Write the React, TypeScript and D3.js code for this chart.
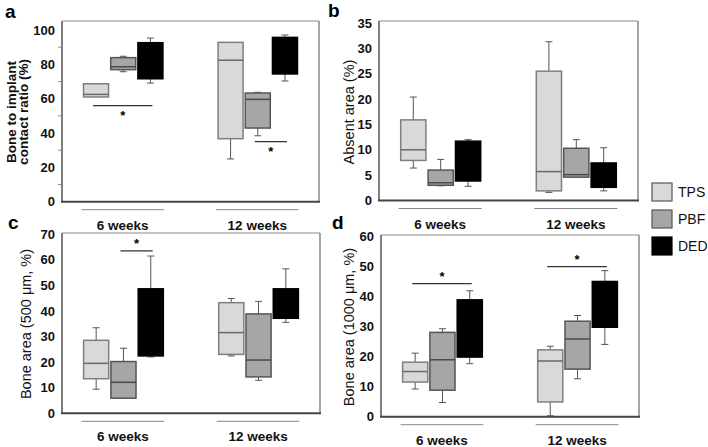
import * as d3 from "d3";

const groups = ["6 weeks", "12 weeks"];
const series = ["TPS", "PBF", "DED"];
const fills = ["#d9d9d9", "#a6a6a6", "#000000"];
const strokes = ["#7f7f7f", "#555555", "#000000"];
const medianColors = ["#6a6a6a", "#4a4a4a", "#000000"];

// [min, q1, median, q3, max] per series, per group
const bic6 = [[61, 61, 62.5, 68.7, 68.7], [75.7, 76.9, 78.6, 83.9, 84.7], [69.1, 71.6, 85, 92.6, 95.3]];
const bic12 = [[24.9, 36.7, 82.4, 92.8, 92.8], [38.4, 42.9, 59.6, 63.3, 63.7], [70.3, 74.4, 88, 95.7, 97.1]];
const absent6 = [[6.4, 7.9, 10.0, 15.9, 20.4], [2.9, 3.0, 3.5, 6.0, 8.1], [2.8, 3.85, 8, 11.7, 12.0]];
const absent12 = [[1.6, 1.9, 5.7, 25.5, 31.3], [4.6, 4.6, 5.1, 10.3, 12.0], [1.9, 2.6, 5, 7.4, 10.4]];
const ba500w6 = [[9.4, 13.5, 19.5, 28.5, 33.4], [5.9, 5.9, 12.1, 20.2, 25.4], [22.0, 22.4, 35, 48.6, 61.4]];
const ba500w12 = [[22.4, 23.0, 31.5, 43.2, 44.8], [12.9, 14.2, 20.8, 38.8, 43.7], [35.5, 37.1, 42, 48.6, 56.4]];
const ba1000w6 = [[9.2, 11.5, 15.0, 18.1, 21.1], [4.7, 8.8, 18.9, 28.0, 29.2], [17.6, 19.8, 30, 38.8, 41.8]];
const ba1000w12 = [[0.3, 4.9, 18.5, 22.2, 23.4], [12.6, 15.8, 25.8, 31.7, 33.6], [24.0, 29.7, 38, 44.9, 48.5]];

// significance bars: group, from series, to series, value, star below?
const sigA = [
  { group: "6 weeks", from: "TPS", to: "DED", v: 56, below: true },
  { group: "12 weeks", from: "PBF", to: "DED", v: 35, below: true },
];
const sigC = [{ group: "6 weeks", from: "PBF", to: "DED", v: 63.4, below: false }];
const sigD = [
  { group: "6 weeks", from: "TPS", to: "DED", v: 44.2, below: false },
  { group: "12 weeks", from: "TPS", to: "DED", v: 49.8, below: false },
];

const ticksA = [0, 20, 40, 60, 80, 100];
const minorA = [10, 30, 50, 70, 90];
const ticksB = [0, 5, 10, 15, 20, 25, 30, 35];
const ticksC = [0, 10, 20, 30, 40, 50, 60, 70];
const ticksD = [0, 10, 20, 30, 40, 50, 60];

const FONT = "'Liberation Sans', Arial, sans-serif";

const panels = [
  { label: "a", title: ["Bone to implant", "contact ratio (%)"], titleBold: true, data: [bic6, bic12], ticks: ticksA, minor: minorA, sig: sigA,
    x0: 62, x1: 319, top: 21, bottom: 201.7, maxPix: 30, titleX: 28, titleY: 112, labelX: 5, labelY: 18 },
  { label: "b", title: ["Absent area (%)"], titleBold: false, data: [absent6, absent12], ticks: ticksB, minor: [], sig: [],
    x0: 379, x1: 638, top: 21, bottom: 200.5, maxPix: 23, titleX: 354, titleY: 112, labelX: 328, labelY: 17 },
  { label: "c", title: ["Bone area (500 μm, %)"], titleBold: false, data: [ba500w6, ba500w12], ticks: ticksC, minor: [], sig: sigC,
    x0: 62, x1: 320, top: 233, bottom: 413.3, maxPix: 234, titleX: 31, titleY: 324, labelX: 8, labelY: 229 },
  { label: "d", title: ["Bone area (1000 μm, %)"], titleBold: false, data: [ba1000w6, ba1000w12], ticks: ticksD, minor: [], sig: sigD,
    x0: 381, x1: 639, top: 235, bottom: 416.7, maxPix: 236, titleX: 354, titleY: 327, labelX: 332, labelY: 229 },
];

function Panel({ p }: { p: (typeof panels)[number] }) {
  const maxT = p.ticks[p.ticks.length - 1];
  const y = d3.scaleLinear().domain([0, maxT]).range([p.bottom, p.maxPix]);
  const gx = d3.scaleBand().domain(groups).range([p.x0, p.x1]).paddingInner(0.41).paddingOuter(0.16);
  const sx = d3.scaleBand().domain(series).range([0, gx.bandwidth()]).paddingInner(0.08);
  const bw = sx.bandwidth();
  const cap = 3.5;
  const cx = (g: string, s: string) => (gx(g) as number) + (sx(s) as number) + bw / 2;
  const lineH = 12.5;
  const nT = p.title.length;
  return (
    <g>
      <text x={p.labelX} y={p.labelY} fontSize={19} fontWeight="bold" fontFamily={FONT}>
        {p.label}
      </text>
      {/* title */}
      {p.title.map((t, i) => (
        <text
          key={t}
          transform={`translate(${p.titleX - (nT - 1 - i) * lineH},${p.titleY}) rotate(-90)`}
          textAnchor="middle"
          fontSize={p.titleBold ? 13.5 : 14.5}
          fontWeight={p.titleBold ? "bold" : "normal"}
          fontFamily={FONT}
          fill="#111"
        >
          {t}
        </text>
      ))}
      {/* frame */}
      <line x1={p.x0} x2={p.x1} y1={p.top} y2={p.top} stroke="#8a8a8a" strokeWidth={1} />
      <line x1={p.x1} x2={p.x1} y1={p.top} y2={p.bottom} stroke="#6a6a6a" strokeWidth={1.2} />
      <line x1={p.x0} x2={p.x0} y1={p.top} y2={p.bottom} stroke="#555" strokeWidth={1.5} />
      <line x1={p.x0 - 1} x2={p.x1 + 1} y1={p.bottom} y2={p.bottom} stroke="#444" strokeWidth={2} />
      {p.ticks.map((t) => (
        <text key={t} x={p.x0 - 7} y={y(t)} dy="0.36em" textAnchor="end" fontSize={13} fontWeight="bold" fontFamily={FONT} fill="#111">
          {t}
        </text>
      ))}
      {p.minor.map((t) => (
        <line key={t} x1={p.x0 - 4} x2={p.x0} y1={y(t)} y2={y(t)} stroke="#888" strokeWidth={1} />
      ))}
      {/* boxes */}
      {groups.map((g, gi) =>
        series.map((s, si) => {
          const [mn, q1, md, q3, mx] = p.data[gi][si];
          const c = cx(g, s);
          const x = c - bw / 2;
          return (
            <g key={g + s}>
              {mx > q3 && (
                <g stroke="#555" strokeWidth={1}>
                  <line x1={c} x2={c} y1={y(q3)} y2={y(mx)} />
                  <line x1={c - cap} x2={c + cap} y1={y(mx)} y2={y(mx)} />
                </g>
              )}
              {mn < q1 && (
                <g stroke="#555" strokeWidth={1}>
                  <line x1={c} x2={c} y1={y(q1)} y2={y(mn)} />
                  <line x1={c - cap} x2={c + cap} y1={y(mn)} y2={y(mn)} />
                </g>
              )}
              <rect x={x} y={y(q3)} width={bw} height={y(q1) - y(q3)} fill={fills[si]} stroke={strokes[si]} strokeWidth={1.5} />
              <line x1={x} x2={x + bw} y1={y(md)} y2={y(md)} stroke={medianColors[si]} strokeWidth={1.5} />
            </g>
          );
        })
      )}
      {/* significance */}
      {p.sig.map((s, i) => {
        const a = cx(s.group, s.from) - 3;
        const b = cx(s.group, s.to) + 2;
        const yy = y(s.v);
        return (
          <g key={i}>
            <line x1={a} x2={b} y1={yy} y2={yy} stroke="#333" strokeWidth={1.2} />
            <text x={(a + b) / 2} y={s.below ? yy + 14 : yy - 3} textAnchor="middle" fontSize={13} fontWeight="bold" fontFamily={FONT}>
              *
            </text>
          </g>
        );
      })}
      {/* group labels */}
      {groups.map((g) => {
        const a = (gx(g) as number) - 2;
        const b = (gx(g) as number) + gx.bandwidth() + 1;
        return (
          <g key={g}>
            <line x1={a} x2={b} y1={p.bottom + 8} y2={p.bottom + 8} stroke="#888" strokeWidth={1} />
            <text x={(a + b) / 2} y={p.bottom + 28} textAnchor="middle" fontSize={13.5} fontWeight="bold" fontFamily={FONT} fill="#111">
              {g}
            </text>
          </g>
        );
      })}
    </g>
  );
}

export default function App() {
  const legendX = 652;
  const legendY = d3.scaleBand().domain(series).range([183, 255]).paddingInner(1 / 3);
  return (
    <svg width={708} height={447} style={{ position: "absolute", left: 0, top: 0, background: "#fff" }}>
      <rect width={708} height={447} fill="#fff" />
      {panels.map((p) => (
        <Panel key={p.label} p={p} />
      ))}
      {series.map((s, i) => (
        <g key={s}>
          <rect x={legendX} y={legendY(s)} width={20} height={legendY.bandwidth()} fill={fills[i]} stroke={i === 2 ? "#000" : "#555"} strokeWidth={1.2} />
          <text x={legendX + 26} y={(legendY(s) as number) + legendY.bandwidth() / 2} dy="0.36em" fontSize={14} fontFamily={FONT} fill="#111">
            {s}
          </text>
        </g>
      ))}
    </svg>
  );
}
